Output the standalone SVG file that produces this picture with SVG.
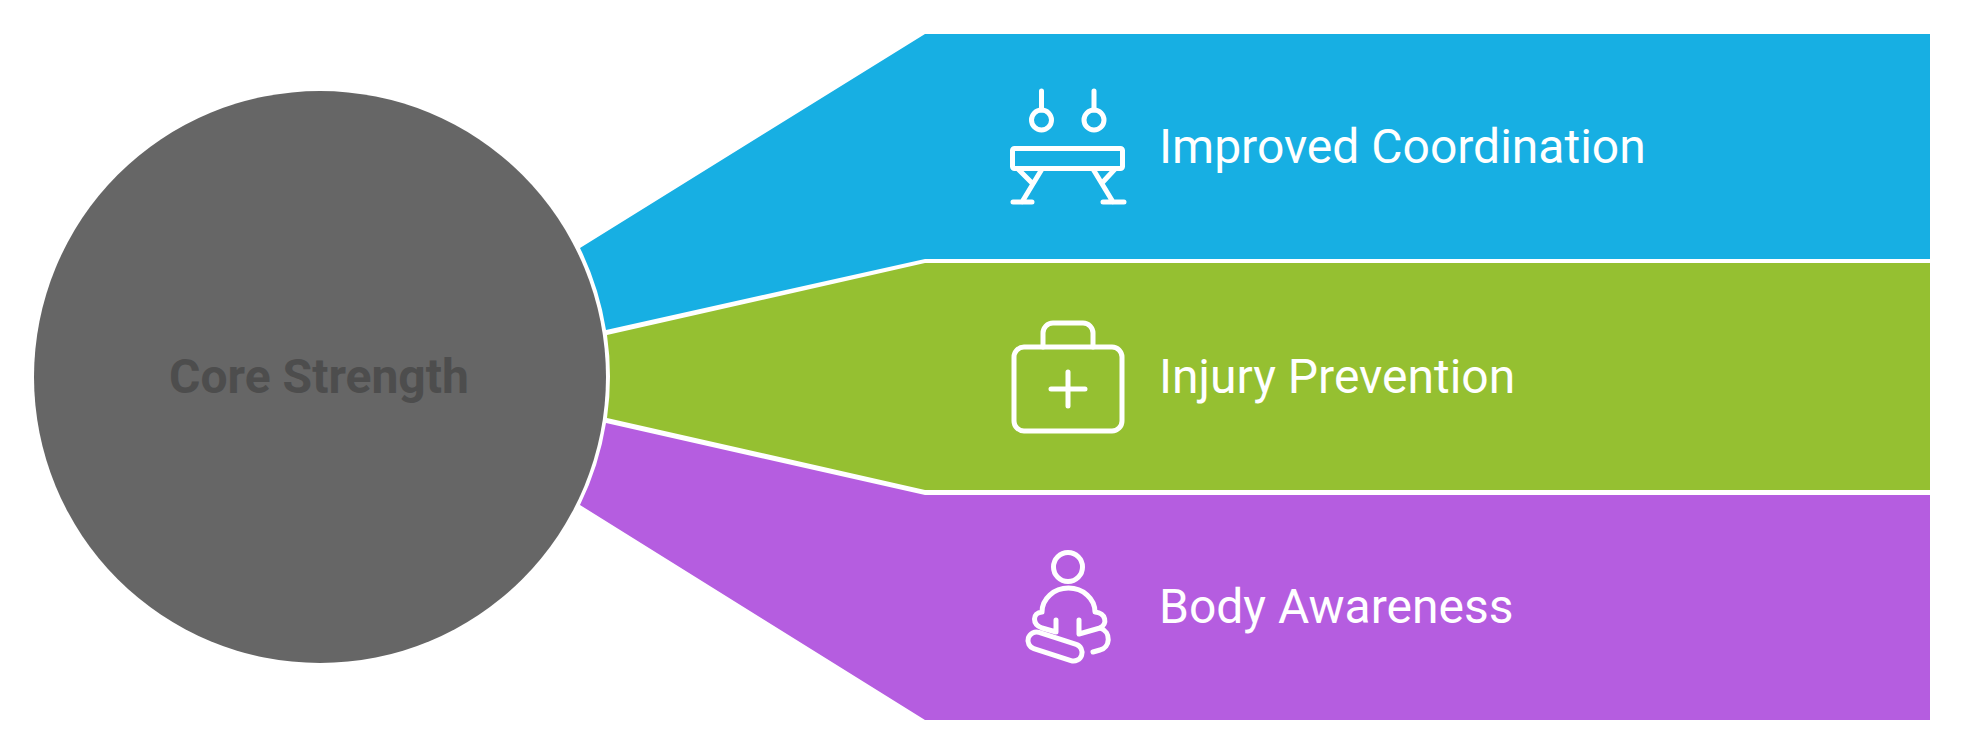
<svg xmlns="http://www.w3.org/2000/svg" width="1964" height="754" viewBox="0 0 1964 754">
  <style>
    text { font-family: Roboto, "Liberation Sans", sans-serif; }
    .label { font-size: 48px; font-weight: 400; fill: #ffffff; }
    .hub { font-size: 48px; font-weight: 700; fill: #4d4d4d; text-anchor: middle; }
    .icon { fill: none; stroke: #ffffff; stroke-width: 5; stroke-linecap: round; stroke-linejoin: round; }
  </style>
  <rect width="1964" height="754" fill="#ffffff"/>
  <g id="node-improved-coordination">
    <path d="M925 34H1930V259H925L606 330A290 290 0 0 0 580 248Z" fill="#17afe3"/>
    <g class="icon">
      <path d="M1041.500 91V110M1094 91V110"/>
      <circle cx="1041.500" cy="120" r="10"/>
      <circle cx="1094" cy="120" r="10"/>
      <rect x="1012.500" y="148.500" width="110" height="20" rx="2"/>
      <path d="M1042 169L1022 202M1013 202H1032M1018 169L1032 183M1093 169L1113 202M1103 202H1124M1115 169L1102 183"/>
    </g>
    <text class="label" x="1159" y="163">Improved Coordination</text>
  </g>
  <g id="node-injury-prevention">
    <path d="M607 335L925 263H1930V490H925L607 418A290 290 0 0 0 607 335Z" fill="#95c031"/>
    <g class="icon">
      <rect x="1014" y="347" width="108" height="84" rx="10"/>
      <path d="M1043 347V333A10 10 0 0 1 1053 323H1083A10 10 0 0 1 1093 333V347"/>
      <path d="M1068 372V406M1051 389H1085"/>
    </g>
    <text class="label" x="1159" y="393">Injury Prevention</text>
  </g>
  <g id="node-body-awareness">
    <path d="M606 423L925 495H1930V720H925L580 505A290 290 0 0 0 606 423Z" fill="#b55de0"/>
    <g class="icon">
      <circle cx="1068" cy="567" r="14.500"/>
      <path d="M1042 612A26.500 24 0 0 1 1095 612C1106 613 1108 624 1100 628L1079 634V620M1056 620V632L1042 628C1032 624 1032 613 1042 612"/>
      <rect x="1027" y="638" width="56" height="17" rx="8.500" transform="rotate(18 1055 646.500)"/>
      <path d="M1100 628C1112 632 1110 648 1100 650L1093 652"/>
    </g>
    <text class="label" x="1159" y="623">Body Awareness</text>
  </g>
  <g id="node-core-strength">
    <circle cx="320" cy="377" r="286" fill="#666666"/>
    <text class="hub" x="319" y="393">Core Strength</text>
  </g>
  <g id="connectors"></g>
</svg>
